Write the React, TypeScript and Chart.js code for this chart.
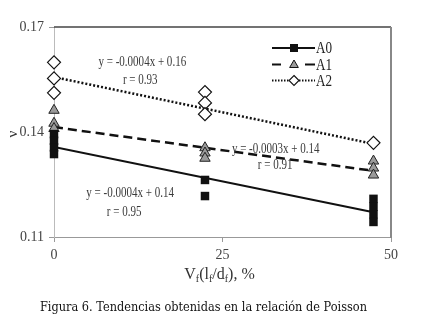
import React, { useEffect, useRef } from 'react';
import { Chart, registerables } from 'chart.js';
Chart.register(...registerables);

// ---- data ----
const xA0 = [0, 0, 0, 0, 22.4, 22.4, 47.4, 47.4, 47.4, 47.4];
const yA0 = [0.1394, 0.1375, 0.1356, 0.1337, 0.1263, 0.1217, 0.1209, 0.1187, 0.1165, 0.1143];
const xA1 = [0, 0, 0, 22.4, 22.4, 22.4, 47.4, 47.4, 47.4];
const yA1 = [0.1462, 0.1425, 0.141, 0.1355, 0.134, 0.1325, 0.1317, 0.1297, 0.1277];
const xA2 = [0, 0, 0, 22.4, 22.4, 22.4, 47.4];
const yA2 = [0.1599, 0.1553, 0.1512, 0.1514, 0.1483, 0.1451, 0.1369];
const trendX = [0, 47.4];
const trendA0 = [0.1357, 0.1171];
const trendA1 = [0.1414, 0.1289];
const trendA2 = [0.1557, 0.1366];
const seriesNames = ['A0', 'A1', 'A2'];
const equations = ['y = -0.0004x + 0.14', 'y = -0.0003x + 0.14', 'y = -0.0004x + 0.16'];
const rValues = ['r = 0.95', 'r = 0.91', 'r = 0.93'];
const xTicks = [0, 25, 50];
const yTicks = [0.11, 0.14, 0.17];
const yTitle = 'ν';
const caption = 'Figura 6. Tendencias obtenidas en la relación de Poisson';

const SERIF = '"Liberation Serif", "Times New Roman", serif';

function pts(xs: number[], ys: number[]) {
  return xs.map((x, i) => ({ x, y: ys[i] }));
}

function drawTri(ctx: CanvasRenderingContext2D, x: number, y: number, r: number) {
  ctx.beginPath();
  ctx.moveTo(x, y - r);
  ctx.lineTo(x + r * 0.87, y + r * 0.5);
  ctx.lineTo(x - r * 0.87, y + r * 0.5);
  ctx.closePath();
  ctx.fill();
  ctx.stroke();
}
function drawDiamond(ctx: CanvasRenderingContext2D, x: number, y: number, r: number) {
  ctx.beginPath();
  ctx.moveTo(x, y - r);
  ctx.lineTo(x + r, y);
  ctx.lineTo(x, y + r);
  ctx.lineTo(x - r, y);
  ctx.closePath();
  ctx.fill();
  ctx.stroke();
}

function scaledText(ctx: CanvasRenderingContext2D, text: string, x: number, y: number, sx: number, align: 'center' | 'left') {
  ctx.save();
  ctx.translate(x, y);
  ctx.scale(sx, 1);
  ctx.textAlign = align;
  ctx.fillText(text, 0, 0);
  ctx.restore();
}

const decor = {
  id: 'decor',
  afterDraw(chart: any) {
    const ctx: CanvasRenderingContext2D = chart.ctx;
    const { left, right, top, bottom } = chart.chartArea;
    const xs = chart.scales.x;
    const ys = chart.scales.y;
    ctx.save();
    // plot box: top and right
    ctx.strokeStyle = '#444';
    ctx.lineWidth = 1.5;
    ctx.beginPath();
    ctx.moveTo(left, top);
    ctx.lineTo(right, top);
    ctx.stroke();
    ctx.strokeStyle = '#888';
    ctx.lineWidth = 2;
    ctx.beginPath();
    ctx.moveTo(right, top);
    ctx.lineTo(right, bottom + 1);
    ctx.stroke();

    ctx.fillStyle = '#333';
    ctx.textBaseline = 'middle';

    // y title (rotated)
    ctx.save();
    ctx.translate(13, (top + bottom) / 2 + 2);
    ctx.rotate(-Math.PI / 2);
    ctx.font = `15px ${SERIF}`;
    ctx.textAlign = 'center';
    ctx.fillText(yTitle, 0, 0);
    ctx.restore();

    // x title with subscripts: V_f(l_f/d_f), %
    const parts: [string, boolean][] = [['V', false], ['f', true], ['(l', false], ['f', true], ['/d', false], ['f', true], ['), %', false]];
    const big = `16px ${SERIF}`;
    const small = `10px ${SERIF}`;
    let total = 0;
    for (const [t, sub] of parts) {
      ctx.font = sub ? small : big;
      total += ctx.measureText(t).width;
    }
    let cx = (left + right) / 2 - total / 2 - 3;
    const baseY = 279;
    ctx.textBaseline = 'alphabetic';
    ctx.textAlign = 'left';
    for (const [t, sub] of parts) {
      ctx.font = sub ? small : big;
      ctx.fillText(t, cx, sub ? baseY + 3 : baseY);
      cx += ctx.measureText(t).width;
    }

    // legend
    ctx.textBaseline = 'middle';
    const lx0 = 272, lx1 = 315, mx = 294;
    const ly = [48, 64.5, 80.5];
    ctx.strokeStyle = '#111';
    // A0
    ctx.lineWidth = 2;
    ctx.setLineDash([]);
    ctx.beginPath(); ctx.moveTo(lx0, ly[0]); ctx.lineTo(lx1, ly[0]); ctx.stroke();
    ctx.fillStyle = '#111';
    ctx.fillRect(mx - 4, ly[0] - 4, 8, 8);
    // A1
    ctx.beginPath(); ctx.moveTo(lx0, ly[1]); ctx.lineTo(lx0 + 9, ly[1]); ctx.stroke();
    ctx.beginPath(); ctx.moveTo(lx1 - 10, ly[1]); ctx.lineTo(lx1, ly[1]); ctx.stroke();
    ctx.fillStyle = '#9a9a9a';
    ctx.lineWidth = 1;
    drawTri(ctx, mx, ly[1] + 0.5, 5);
    // A2
    ctx.lineWidth = 2;
    ctx.setLineDash([1.5, 1.5]);
    ctx.beginPath(); ctx.moveTo(lx0, ly[2]); ctx.lineTo(lx1, ly[2]); ctx.stroke();
    ctx.setLineDash([]);
    ctx.fillStyle = '#fff';
    ctx.lineWidth = 1.1;
    drawDiamond(ctx, mx, ly[2], 5);
    ctx.fillStyle = '#222';
    ctx.font = `16px ${SERIF}`;
    seriesNames.forEach((n, i) => scaledText(ctx, n, lx1 + 1, ly[i] + 1, 0.82, 'left'));

    // annotations (positions in data coordinates)
    ctx.fillStyle = '#3a3a3a';
    ctx.font = `14.5px ${SERIF}`;
    const eqPos = [[11.3, 0.1226], [32.9, 0.1351], [13.1, 0.16]];
    const rPos = [[10.4, 0.1171], [32.8, 0.1306], [12.8, 0.1549]];
    equations.forEach((t, i) => {
      scaledText(ctx, t, xs.getPixelForValue(eqPos[i][0]), ys.getPixelForValue(eqPos[i][1]), 0.76, 'center');
    });
    rValues.forEach((t, i) => {
      scaledText(ctx, t, xs.getPixelForValue(rPos[i][0]), ys.getPixelForValue(rPos[i][1]), 0.76, 'center');
    });

    // caption, fitted to width
    ctx.fillStyle = '#111';
    ctx.font = `12px "DejaVu Serif", serif`;
    const w = ctx.measureText(caption).width;
    scaledText(ctx, caption, 203.5, 308, 327 / w, 'center');
    ctx.restore();
  },
};

const bgPlugin = {
  id: 'bg',
  beforeDraw(chart: any) {
    const ctx = chart.ctx;
    ctx.save();
    ctx.fillStyle = '#fff';
    ctx.fillRect(0, 0, chart.width, chart.height);
    ctx.restore();
  },
};

export default function App() {
  const ref = useRef<HTMLCanvasElement | null>(null);
  useEffect(() => {
    if (!ref.current) return;
    const chart = new Chart(ref.current, {
      type: 'scatter',
      data: {
        datasets: [
          { label: 'A0', data: pts(xA0, yA0), pointStyle: 'rect', pointRadius: 6, backgroundColor: '#111', borderColor: '#111', borderWidth: 0, order: 0, clip: false } as any,
          { label: 'A1', data: pts(xA1, yA1), pointStyle: 'triangle', pointRadius: 6, backgroundColor: '#9a9a9a', borderColor: '#222', borderWidth: 1, order: 0, clip: false } as any,
          { label: 'A2', data: pts(xA2, yA2), pointStyle: 'rectRot', pointRadius: 6.5, backgroundColor: '#fff', borderColor: '#111', borderWidth: 1.2, order: 0, clip: false } as any,
          { label: 'tA0', data: pts(trendX, trendA0), showLine: true, pointRadius: 0, borderColor: '#111', borderWidth: 2, order: 1 } as any,
          { label: 'tA1', data: pts(trendX, trendA1), showLine: true, pointRadius: 0, borderColor: '#111', borderWidth: 2.5, borderDash: [9, 5], order: 1 } as any,
          { label: 'tA2', data: pts(trendX, trendA2), showLine: true, pointRadius: 0, borderColor: '#111', borderWidth: 2.5, borderDash: [2, 2], order: 1 } as any,
        ],
      },
      options: {
        animation: false,
        responsive: false,
        events: [],
        layout: { padding: { left: 0, top: 27, right: 39, bottom: 0 } },
        plugins: { legend: { display: false }, tooltip: { enabled: false }, title: { display: false } },
        scales: {
          x: {
            type: 'linear',
            min: 0,
            max: 50,
            afterBuildTicks: (s: any) => { s.ticks = xTicks.map((v) => ({ value: v })); },
            afterFit: (s: any) => { s.height = 92; },
            grid: { drawOnChartArea: false, drawTicks: true, tickLength: 5, color: '#999' },
            border: { display: true, color: '#999', width: 1 },
            ticks: { font: { family: SERIF, size: 14 }, color: '#444', padding: 5, maxRotation: 0, callback: (v: any) => String(v) },
          },
          y: {
            type: 'linear',
            min: 0.11,
            max: 0.17,
            afterBuildTicks: (s: any) => { s.ticks = yTicks.map((v) => ({ value: v })); },
            afterFit: (s: any) => { s.width = 54; },
            grid: { drawOnChartArea: false, drawTicks: true, tickLength: 5, color: '#999' },
            border: { display: true, color: '#bbb', width: 1 },
            ticks: { font: { family: SERIF, size: 14 }, color: '#444', padding: 5, callback: (v: any) => Number(v).toFixed(2) },
          },
        },
      } as any,
      plugins: [bgPlugin, decor],
    });
    return () => chart.destroy();
  }, []);
  return (
    <div style={{ position: 'absolute', left: 0, top: 0, width: 430, height: 329, background: '#fff' }}>
      <canvas ref={ref} width={430} height={329} style={{ display: 'block' }} />
    </div>
  );
}
